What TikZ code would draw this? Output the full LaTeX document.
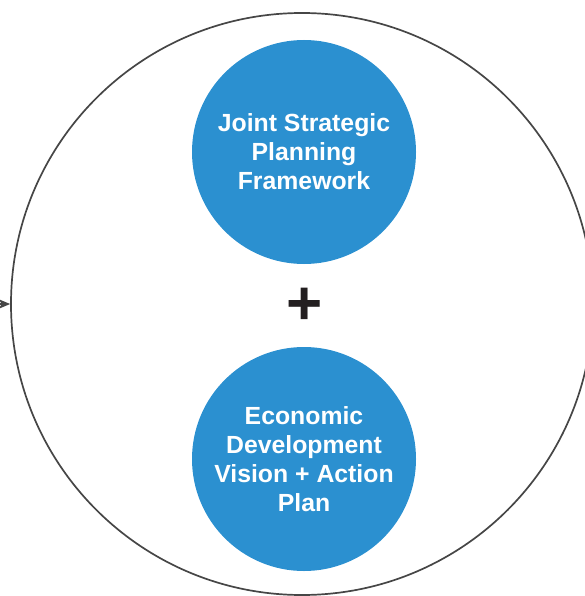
\documentclass[tikz,border=0pt]{standalone}
\usepackage{fontspec}
\setmainfont{Liberation Sans}
\usetikzlibrary{arrows.meta}
\definecolor{planblue}{RGB}{43,144,208}
\definecolor{ringgray}{RGB}{70,70,70}
\definecolor{plusblack}{RGB}{35,31,32}
\begin{document}
\begin{tikzpicture}[x=1pt,y=-1pt,
    plancircle/.style={circle,fill=planblue,minimum size=224pt,inner sep=0pt,
      text=white,align=center,font=\fontsize{24.8}{29}\selectfont\bfseries}]
    \useasboundingbox (0,0) rectangle (584,596);
    % define variables.
    \def\ringcenter{(302,304)}
    \def\topcenter{(304,152)}
    \def\botcenter{(304,459)}
    % draw the outer ring
    \node[circle,draw=ringgray,line width=1.7pt,minimum size=582pt,inner sep=0pt] (ring) at \ringcenter {};
    % draw the two plans
    \node[plancircle] (framework) at \topcenter {Joint Strategic\\Planning\\Framework};
    \node[plancircle] (vision) at \botcenter {Economic\\Development\\Vision + Action\\Plan};
    \node[text=plusblack,font=\fontsize{62}{62}\selectfont\bfseries,inner sep=0pt] (plus) at (304.5,306) {+};
    % draw the incoming arrow
    \coordinate (feed) at (-4,304);
    \draw[ringgray,line width=1.7pt,-{Stealth[length=12pt,width=10pt]}] (feed) -- (ring.west);
\end{tikzpicture}
\end{document}
